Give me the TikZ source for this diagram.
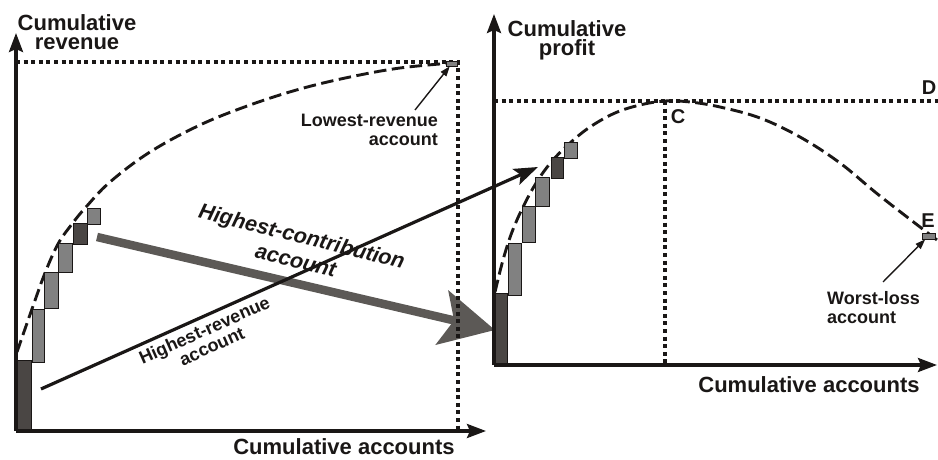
\documentclass[tikz,border=0pt]{standalone}
\usepackage{fontspec}
\setmainfont{Liberation Sans}
\usetikzlibrary{arrows.meta}

\definecolor{ink}{HTML}{1A1716}
\definecolor{barmid}{HTML}{818181}
\definecolor{bardark}{HTML}{4A4644}
\definecolor{flowgray}{HTML}{5C5956}

\tikzset{
  axis/.style={line width=3.2pt, draw=ink, -{Stealth[length=19pt,width=14pt,inset=3pt]}},
  guide/.style={line width=3.2pt, draw=ink, dash pattern=on 4pt off 3.6pt},
  trend/.style={line width=2.9pt, draw=ink, dash pattern=on 12.5pt off 5.5pt},
  barmidstyle/.style={draw=ink, line width=0.8pt, fill=barmid},
  bardarkstyle/.style={draw=ink, line width=0.8pt, fill=bardark},
  tinybar/.style={draw=ink, line width=0.7pt, fill=barmid, minimum width=11pt, minimum height=5pt, inner sep=0pt},
  axlabel/.style={font=\bfseries\fontsize{22}{19}\selectfont, text=ink, align=center, inner sep=0pt},
  note/.style={font=\bfseries\fontsize{18}{19}\selectfont, text=ink, inner sep=0pt},
  letter/.style={font=\bfseries\fontsize{20}{20}\selectfont, text=ink, inner sep=0pt},
  pointer/.style={line width=1.4pt, draw=ink, -{Triangle[length=10pt,width=7pt]}},
  revflow/.style={line width=3.2pt, draw=ink, -{Stealth[length=24pt,width=17pt,inset=5pt]}},
  contribflow/.style={line width=8.5pt, draw=flowgray, -{Stealth[length=54pt,width=55pt,inset=12pt]}}
}

\begin{document}
\begin{tikzpicture}[x=1pt,y=-1pt]
\useasboundingbox (0,0) rectangle (938,460);

% ---------- big flow arrows between the two charts ----------
\coordinate (hctail) at (97,237);
\coordinate (hctip) at (495,330);
\draw[contribflow] (hctail) -- (hctip);

\coordinate (hrtail) at (41,389);
\coordinate (hrtip) at (538,167);
\draw[revflow] (hrtail) -- (hrtip);

% ---------- left chart: revenue ----------
\draw[guide] (16,62) -- (458,62) -- (458,431);

\draw[trend] plot[smooth, tension=0.6] coordinates {
  (17,352) (32,309) (45,273) (58,244) (72,224) (86,207) (110,182)
  (150,152) (200,125) (250,105) (300,89) (350,77) (400,68) (452,63)};

\draw[bardarkstyle] (16,360) rectangle (31,431);
\draw[barmidstyle] (32,309) rectangle (44,362);
\draw[barmidstyle] (44,272) rectangle (58,308);
\draw[barmidstyle] (58,243) rectangle (72,272);
\draw[bardarkstyle] (73,223) rectangle (87,244);
\draw[barmidstyle] (87,208) rectangle (100,224);

\node[tinybar] (lowrev) at (452,63.5) {};

\coordinate (origL) at (16,431);
\coordinate (ytipL) at (16,33);
\coordinate (xtipL) at (486,431);
\draw[axis] (origL) -- (ytipL);
\draw[axis] (origL) -- (xtipL);

\node[axlabel] (ylabL) at (77,32) {Cumulative\\revenue};
\node[axlabel] (xlabL) at (344,447) {Cumulative accounts};

\node[note, align=right, anchor=east] (lowlbl) at (438,130) {Lowest-revenue\\account};
\coordinate (lowtail) at (415,110);
\draw[pointer] (lowtail) -- (lowrev);

% ---------- right chart: profit ----------
\draw[guide] (494,101) -- (938,101);
\draw[guide] (665,101) -- (665,365);

\draw[trend] plot[smooth, tension=0.6] coordinates {
  (495,292) (503,260) (512,232) (524,205) (538,180) (553,160) (570,143)
  (590,127) (615,113) (640,105) (665,101) (690,102) (720,107) (760,118)
  (800,137) (840,163) (880,196) (937,240)};

\draw[bardarkstyle] (494,293) rectangle (507,365);
\draw[barmidstyle] (508,243) rectangle (521,295);
\draw[barmidstyle] (522,206) rectangle (535,242);
\draw[barmidstyle] (535,177) rectangle (549,206);
\draw[bardarkstyle] (551,157) rectangle (563,178);
\draw[barmidstyle] (564,142) rectangle (577,158);

\node[tinybar, minimum width=13pt, minimum height=6pt] (worst) at (928.5,236) {};

\coordinate (origR) at (494,365);
\coordinate (ytipR) at (494,14);
\coordinate (xtipR) at (937,365);
\draw[axis] (origR) -- (ytipR);
\draw[axis] (origR) -- (xtipR);

\node[axlabel] (ylabR) at (567,40) {Cumulative\\profit};
\node[axlabel] (xlabR) at (809,385) {Cumulative accounts};

\node[letter] (ptC) at (678,117) {C};
\node[letter] (ptD) at (929,88) {D};
\node[letter] (ptE) at (928,221) {E};

\node[note, align=left, anchor=west] (worstlbl) at (827,307.5) {Worst-loss\\account};
\coordinate (worsttail) at (883,282);
\draw[pointer] (worsttail) -- (worst);

% ---------- arrow captions ----------
\node[note, font=\bfseries\fontsize{18}{18}\selectfont, align=center, rotate=24] (hrlbl) at (208,338) {Highest-revenue\\account};
\node[font=\bfseries\itshape\fontsize{21.5}{25}\selectfont, text=ink, align=center, inner sep=0pt, rotate=-14] (hclbl) at (299,248) {Highest-contribution\\account};
\end{tikzpicture}
\end{document}
